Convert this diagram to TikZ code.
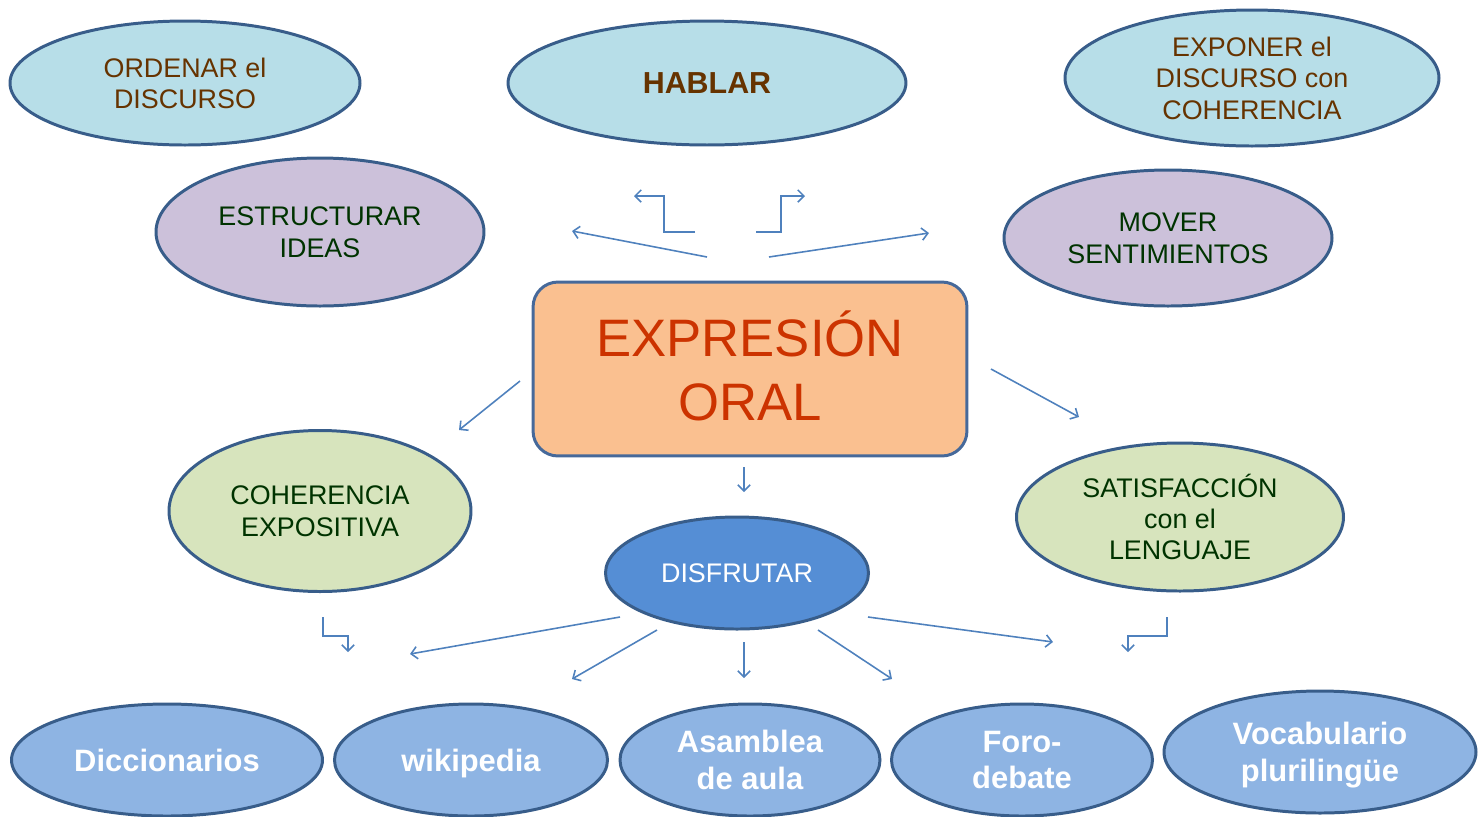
\documentclass[tikz,border=0pt]{standalone}
\usepackage{fontspec}
\setmainfont{Liberation Sans}
\usetikzlibrary{shapes.geometric,arrows.meta}
\definecolor{skyFill}{HTML}{B7DEE8}
\definecolor{lilacFill}{HTML}{CCC1DA}
\definecolor{sageFill}{HTML}{D7E4BD}
\definecolor{deepFill}{HTML}{558ED5}
\definecolor{softFill}{HTML}{8EB4E3}
\definecolor{peachFill}{HTML}{FAC090}
\definecolor{ovalBorder}{HTML}{385D8A}
\definecolor{boxBorder}{HTML}{46699A}
\definecolor{brownText}{HTML}{663300}
\definecolor{greenText}{HTML}{003300}
\definecolor{redText}{HTML}{CC3300}
\definecolor{arrowBlue}{HTML}{4F81BD}
\begin{document}
\begin{tikzpicture}
[x=0.02cm,y=-0.02cm,%
  ovalDecorate/.style={shape=ellipse,draw=ovalBorder,line width=1.7pt,inner sep=0pt,align=center,%
    text depth=0pt,font=\fontsize{15.3}{17.8}\selectfont},%
  skyDecorate/.style={ovalDecorate,fill=skyFill,text=brownText},%
  lilacDecorate/.style={ovalDecorate,fill=lilacFill,text=greenText},%
  sageDecorate/.style={ovalDecorate,fill=sageFill,text=greenText},%
  deepDecorate/.style={ovalDecorate,fill=deepFill,text=white},%
  softDecorate/.style={ovalDecorate,fill=softFill,text=white,font=\bfseries\fontsize{17.6}{20.8}\selectfont},%
  lineDecorate/.style={draw=arrowBlue,line width=0.9pt,-{Straight Barb[length=3.5pt,width=7pt]}}]
\useasboundingbox (0,0) rectangle (1482,816);
%% central box
\node (oral) at (750,369) [shape=rectangle,rounded corners=0.5cm,draw=boxBorder,line width=1.7pt,%
  fill=peachFill,text=redText,align=center,minimum width=8.68cm,minimum height=3.48cm,%
  text depth=3.4pt,font=\fontsize{30}{36.3}\selectfont] {EXPRESIÓN\\ORAL};
%% ovals
\foreach \nodename/\x/\y/\w/\h/\look/\txt in {
  ordenar/185/83/350/124/sky/{ORDENAR el\\DISCURSO},
  exponer/1252/78/374/136/sky/{EXPONER el\\DISCURSO con\\COHERENCIA},
  estructurar/320/232/328/148/lilac/{ESTRUCTURAR\\IDEAS},
  mover/1168/238/328/136/lilac/{MOVER\\SENTIMIENTOS},
  coherencia/320/511/302/161/sage/{COHERENCIA\\EXPOSITIVA},
  satisfaccion/1180/517/327/148/sage/{SATISFACCIÓN\\con el\\LENGUAJE},
  disfrutar/737/573/263/112/deep/{DISFRUTAR},
  diccionarios/167/760/311/112/soft/{Diccionarios},
  wikipedia/471/760/273/112/soft/{wikipedia},
  asamblea/750/760/260/112/soft/{Asamblea\\de aula},
  foro/1022/760/261/112/soft/{Foro-\\debate},
  vocabulario/1320/752/312/122/soft/{Vocabulario\\plurilingüe}}
{
  \node (\nodename) at (\x,\y) [\look Decorate,minimum width=\w*0.02cm,minimum height=\h*0.02cm] {\txt};
}
\node (hablar) at (707,83) [skyDecorate,minimum width=7.96cm,minimum height=2.48cm,%
  font=\bfseries\fontsize{17.3}{20}\selectfont] {HABLAR};
%% arrow ends
\foreach \cname/\x/\y in {
  tlS/707/257, tlE/572/231, trS/769/257, trE/929/233,
  tbS/695/232, tbC/664/196, tbE/634/196,
  rbS/756/232, rbC/781/196, rbE/805/196,
  olS/520/381, olE/459/430, orS/991/369, orE/1079/417,
  odS/744/467, odE/744/492,
  dlS/620/617, dlE/410/654, dmlS/657/630, dmlE/572/679,
  ddS/744/642, ddE/744/678, dmrS/818/630, dmrE/892/679,
  drS/868/617, drE/1053/642,
  blS/323/617, blC/348/636, blE/348/652,
  brS/1167/617, brC/1128/636, brE/1128/652}
{
  \coordinate (\cname) at (\x,\y);
}
%% arrows
\foreach \startnode/\endnode in {tlS/tlE, trS/trE, olS/olE, orS/orE, odS/odE,
  dlS/dlE, dmlS/dmlE, ddS/ddE, dmrS/dmrE, drS/drE}
{
  \draw[lineDecorate] (\startnode) -- (\endnode);
}
\draw[lineDecorate] (tbS) -| (tbC) -- (tbE);
\draw[lineDecorate] (rbS) -| (rbC) -- (rbE);
\draw[lineDecorate] (blS) |- (blC) -- (blE);
\draw[lineDecorate] (brS) |- (brC) -- (brE);
\end{tikzpicture}
\end{document}
